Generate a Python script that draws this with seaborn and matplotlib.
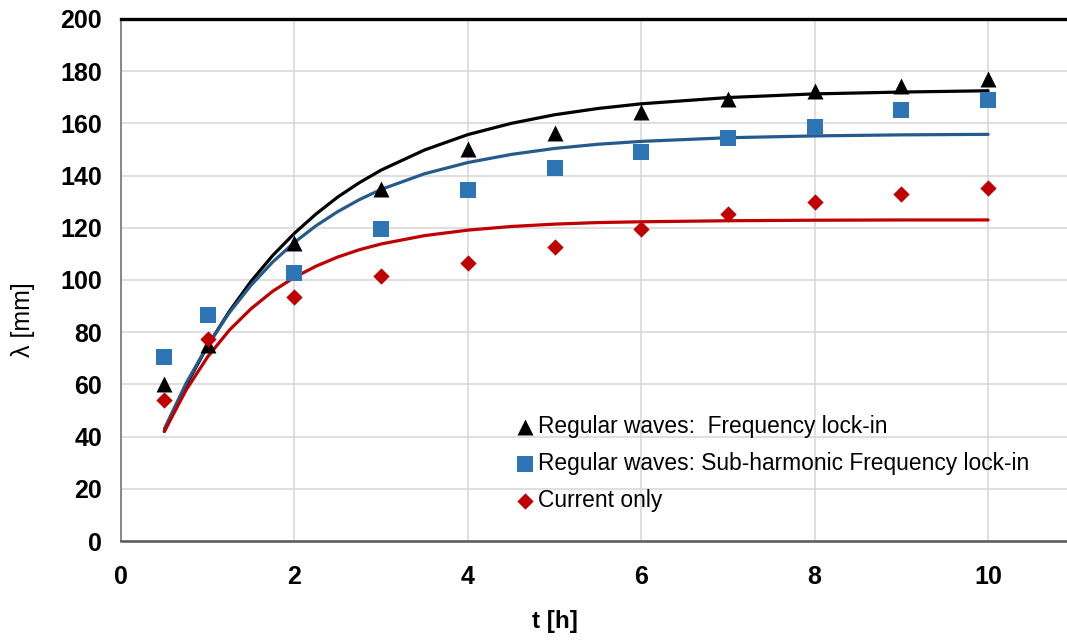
"""
Wavelength growth over time: measured points plus fitted curves.
"""

import matplotlib.pyplot as plt
import seaborn as sns

# ---------------------------------------------
# DATA
# ---------------------------------------------
t_obs = [0.5, 1, 2, 3, 4, 5, 6, 7, 8, 9, 10]
lock_in = [60, 75, 114, 135, 150, 156.5, 164.5, 169.5, 172.5, 174.5, 177]
sub_harmonic = [70.5, 86.5, 102.5, 119.5, 134.5, 143, 149, 154.3, 158.7, 165, 168.8]
current_only = [54, 77.5, 93.5, 101.5, 106.5, 112.7, 119.7, 125.2, 130, 133, 135.2]

t_fit = [0.5, 0.75, 1.0, 1.25, 1.5, 1.75, 2.0, 2.25, 2.5, 2.75, 3.0,
         3.5, 4.0, 4.5, 5.0, 5.5, 6, 7, 8, 9, 10]
lock_in_fit = [42.0, 59.6, 74.8, 88.0, 99.5, 109.4, 117.9, 125.3, 131.8, 137.3, 142.1,
               149.8, 155.7, 160.0, 163.3, 165.7, 167.5, 169.9, 171.3, 172.0, 172.5]
sub_harmonic_fit = [43.0, 60.4, 75.0, 87.5, 98.0, 106.9, 114.4, 120.8, 126.2, 130.8, 134.7,
                    140.7, 145.0, 148.1, 150.4, 152.0, 153.1, 154.5, 155.2, 155.6, 155.8]
current_fit = [42.0, 57.8, 70.6, 80.8, 89.0, 95.7, 101.0, 105.3, 108.8, 111.6, 113.8,
               117.0, 119.1, 120.5, 121.4, 122.0, 122.3, 122.7, 122.9, 123.0, 123.0]

labels = [
    "Regular waves:  Frequency lock-in",
    "Regular waves: Sub-harmonic Frequency lock-in",
    "Current only",
]

x_ticks = [0, 2, 4, 6, 8, 10]
y_ticks = [0, 20, 40, 60, 80, 100, 120, 140, 160, 180, 200]

# ---------------------------------------------
# STYLE
# ---------------------------------------------
sns.set_theme(style="white")
plt.rcParams["font.family"] = ["Liberation Sans", "DejaVu Sans"]

fig = plt.figure(figsize=(10.67, 6.41), dpi=100)
ax = fig.add_axes([0.1134, 0.156, 0.8866, 0.8144])

# fitted curves
sns.lineplot(x=t_fit, y=lock_in_fit, color="black", linewidth=2.3, ax=ax, zorder=3)
sns.lineplot(x=t_fit, y=sub_harmonic_fit, color="#245A8C", linewidth=2.3, ax=ax, zorder=3)
sns.lineplot(x=t_fit, y=current_fit, color="#C00000", linewidth=2.3, ax=ax, zorder=3)

# measured points
sns.scatterplot(x=t_obs, y=lock_in, marker="^", s=11.5 ** 2, color="black",
                linewidth=0, label=labels[0], ax=ax, zorder=4)
sns.scatterplot(x=t_obs, y=sub_harmonic, marker="s", s=12 ** 2, color="#2E75B6",
                linewidth=0, label=labels[1], ax=ax, zorder=4)
sns.scatterplot(x=t_obs, y=current_only, marker="D", s=8.3 ** 2, color="#C00000",
                linewidth=0, label=labels[2], ax=ax, zorder=4)

# axes
ax.set_xlim(0, 10.91)
ax.set_ylim(0, 200)
ax.set_xticks(x_ticks)
ax.set_yticks(y_ticks)
ax.grid(True, color="#d9d9d9", linewidth=1.2)
ax.set_axisbelow(True)
ax.tick_params(axis="both", length=0, labelsize=18)
ax.tick_params(axis="y", pad=13.5)
ax.tick_params(axis="x", pad=17)
for lab in ax.get_xticklabels() + ax.get_yticklabels():
    lab.set_fontweight("bold")
    lab.set_color("black")

ax.spines["top"].set_color("black")
ax.spines["top"].set_linewidth(2.4)
ax.spines["left"].set_color("#7f7f7f")
ax.spines["left"].set_linewidth(1.3)
ax.spines["bottom"].set_color("#595959")
ax.spines["bottom"].set_linewidth(1.8)
ax.spines["right"].set_visible(False)

ax.set_xlabel("t [h]", fontsize=17.5, fontweight="bold", color="black", va="center")
ax.xaxis.set_label_coords(0.459, -0.155)
ax.set_ylabel("λ [mm]", fontsize=18, color="black", va="center")
ax.yaxis.set_label_coords(-0.1036, 0.425)

leg = ax.legend(
    loc="upper left",
    bbox_to_anchor=(0.4106, 0.259),
    frameon=False,
    fontsize=16.4,
    handlelength=0.58,
    handletextpad=0.28,
    labelspacing=0.61,
    borderaxespad=0,
    markerscale=1.0,
)
for txt in leg.get_texts():
    txt.set_color("black")

plt.savefig("out.png", dpi=100)
